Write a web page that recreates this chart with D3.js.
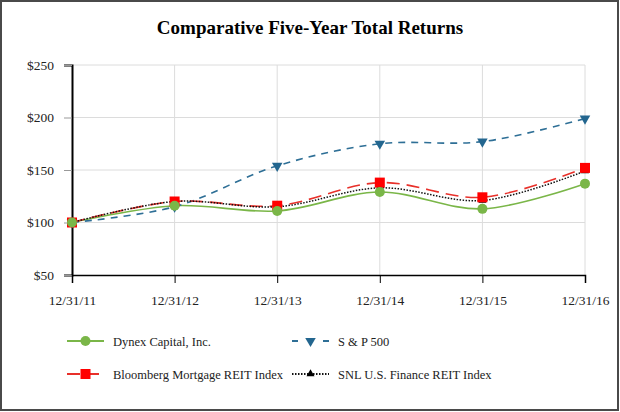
<!DOCTYPE html>
<html>
<head>
<meta charset="utf-8">
<script src="https://cdn.jsdelivr.net/npm/d3@7"></script>
<style>
  body { margin: 0; background: #fff; }
  svg { display: block; font-family: "Liberation Serif", "Times New Roman", serif; }
</style>
</head>
<body>
<div id="chart"></div>
<script>
const width = 620;
const height = 412;

// data
const dates = ['12/31/11', '12/31/12', '12/31/13', '12/31/14', '12/31/15', '12/31/16'];
const yTicks = [50, 100, 150, 200, 250];
const dynex = [100, 116, 111, 129, 113, 137];
const sp500 = [100, 115, 154, 175, 177, 199];
const bloomberg = [100, 120, 116, 138, 124, 152];
const snl = [100, 120, 115, 133, 121, 149];

const seriesList = [
    {name: 'Dynex Capital, Inc.', values: dynex, color: '#7ab648', dash: null, marker: 'circle', mcolor: '#7ab648'},
    {name: 'S & P 500', values: sp500, color: '#2e6f96', dash: '7,6', marker: 'down', mcolor: '#23668f'},
    {name: 'Bloomberg Mortgage REIT Index', values: bloomberg, color: '#e8302a', dash: '13,7', marker: 'square', mcolor: '#ff0000'},
    {name: 'SNL U.S. Finance REIT Index', values: snl, color: '#111', dash: '1.5,1.5', marker: 'up', mcolor: '#000'}
];

const margin = {left: 72, right: 35, top: 65, bottom: 137};

var svg = d3.select('#chart').append('svg')
    .attr('width', width)
    .attr('height', height);

svg.append('rect')
    .attr('x', 1).attr('y', 1)
    .attr('width', width - 3).attr('height', height - 3)
    .attr('fill', '#fff')
    .attr('stroke', '#4a4a4a')
    .attr('stroke-width', 2);

svg.append('text')
    .attr('x', 310).attr('y', 34)
    .attr('text-anchor', 'middle')
    .attr('font-size', 19)
    .attr('font-weight', 'bold')
    .text('Comparative Five-Year Total Returns');

var xScale = d3.scalePoint().domain(dates).range([margin.left, width - margin.right]);
var yScale = d3.scaleLinear().domain([50, 250]).range([height - margin.bottom, margin.top]);

// gridlines
svg.append('g').selectAll('line')
    .data(yTicks.slice(1))
    .enter().append('line')
    .attr('x1', margin.left).attr('x2', width - margin.right)
    .attr('y1', d => yScale(d)).attr('y2', d => yScale(d))
    .attr('stroke', '#dcdcdc').attr('stroke-width', 1);

svg.append('g').selectAll('line')
    .data(dates.slice(1))
    .enter().append('line')
    .attr('x1', d => xScale(d)).attr('x2', d => xScale(d))
    .attr('y1', yScale(250)).attr('y2', yScale(50))
    .attr('stroke', '#dcdcdc').attr('stroke-width', 1);

// axes
var yAxis = d3.axisLeft(yScale).tickValues(yTicks).tickFormat(d => '$' + d).tickSize(8).tickPadding(10);
var xAxis = d3.axisBottom(xScale).tickSize(8).tickPadding(12);

var gy = svg.append('g')
    .attr('transform', 'translate(' + margin.left + ',0)')
    .call(yAxis);
gy.select('.domain').attr('stroke', '#000').attr('stroke-width', 2);
gy.selectAll('.tick line').attr('stroke', '#999');
gy.selectAll('text').attr('font-size', 13.5).attr('font-family', 'Liberation Serif').attr('fill', '#222');

var gx = svg.append('g')
    .attr('transform', 'translate(0,' + yScale(50) + ')')
    .call(xAxis);
gx.select('.domain').attr('stroke', '#000').attr('stroke-width', 1.5);
gx.selectAll('.tick line').attr('stroke', '#000');
gx.selectAll('text').attr('font-size', 13.5).attr('font-family', 'Liberation Serif').attr('fill', '#222');

var line = d3.line()
    .x((d, i) => xScale(dates[i]))
    .y(d => yScale(d))
    .curve(d3.curveCatmullRom.alpha(0.5));

function drawMarker(g, type, x, y, color) {
    if (type == 'circle') {
        g.append('circle').attr('cx', x).attr('cy', y).attr('r', 5).attr('fill', color);
    } else if (type == 'square') {
        g.append('rect').attr('x', x - 5).attr('y', y - 5).attr('width', 10).attr('height', 10).attr('fill', color);
    } else if (type == 'down') {
        g.append('path').attr('d', d3.symbol().type(d3.symbolTriangle).size(48)())
            .attr('transform', 'translate(' + x + ',' + y + ') rotate(180)').attr('fill', color);
    } else if (type == 'up') {
        g.append('path').attr('d', d3.symbol().type(d3.symbolTriangle).size(28)())
            .attr('transform', 'translate(' + x + ',' + y + ')').attr('fill', color);
    }
}

// lines then markers
seriesList.forEach(function(s) {
    svg.append('path')
        .datum(s.values)
        .attr('d', line)
        .attr('fill', 'none')
        .attr('stroke', s.color)
        .attr('stroke-width', s.marker == 'up' ? 1.5 : 1.6)
        .attr('stroke-dasharray', s.dash);
});

var order = [1, 3, 2, 0];
order.forEach(function(k) {
    var s = seriesList[k];
    var g = svg.append('g');
    s.values.forEach(function(v, i) {
        drawMarker(g, s.marker, xScale(dates[i]), yScale(v), s.mcolor);
    });
});

// legend
var legendPos = [
    {x: 67, y: 341}, {x: 292, y: 341},
    {x: 67, y: 374}, {x: 292, y: 374}
];
var sampleDash = [null, '6,25', '13,6', '1.5,1.5'];

seriesList.forEach(function(s, i) {
    var p = legendPos[i];
    var lg = svg.append('g');
    lg.append('line')
        .attr('x1', p.x).attr('x2', p.x + 37)
        .attr('y1', p.y).attr('y2', p.y)
        .attr('stroke', s.color)
        .attr('stroke-width', 1.8)
        .attr('stroke-dasharray', sampleDash[i]);
    drawMarker(lg, s.marker, p.x + 18.5, p.y, s.mcolor);
    lg.append('text')
        .attr('x', p.x + 46).attr('y', p.y + 4.5)
        .attr('font-size', 12.5)
        .attr('fill', '#222')
        .text(s.name);
});
</script>
</body>
</html>
